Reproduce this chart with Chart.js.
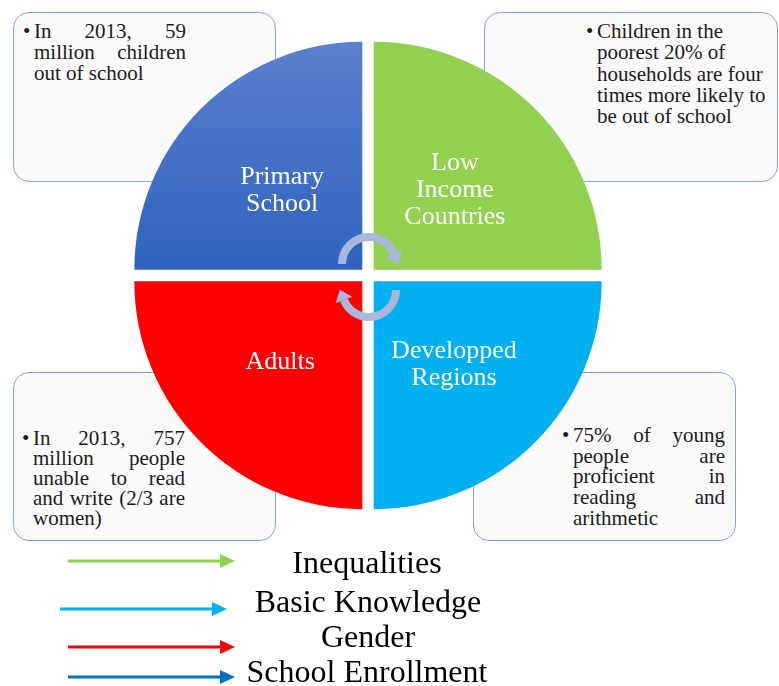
<!DOCTYPE html>
<html>
<head>
<meta charset="utf-8">
<script src="https://cdn.jsdelivr.net/npm/chart.js@4/dist/chart.umd.min.js"></script>
<style>
  html,body{margin:0;padding:0;background:#fff;}
  #wrap{position:relative;width:779px;height:686px;overflow:hidden;font-family:"Liberation Serif","DejaVu Serif",serif;}
  .box{position:absolute;box-sizing:border-box;border:1.5px solid #86A3DA;border-radius:16px;background:#FAFAFA;z-index:1;}
  .txt{position:absolute;z-index:1;font-size:21px;color:#1c1c1c;}
  .ln{white-space:nowrap;height:21px;line-height:21px;}
  .j{text-align:justify;text-align-last:justify;}
  .bul{position:absolute;font-size:21px;line-height:21px;}
  canvas{position:absolute;left:0;top:0;z-index:2;}
  #legend{position:absolute;left:0;top:0;z-index:3;}
  .lt{position:absolute;z-index:3;font-size:32px;color:#000;white-space:nowrap;transform:translate(-50%,-50%);line-height:1;}
</style>
</head>
<body>
<div id="wrap">
  <div class="box" style="left:13px;top:12px;width:263px;height:170px;"></div>
  <div class="box" style="left:484px;top:12px;width:294px;height:170px;"></div>
  <div class="box" style="left:13px;top:372px;width:263px;height:169px;"></div>
  <div class="box" style="left:473px;top:372px;width:263px;height:169px;"></div>
  <div id="notes"></div>
  <canvas id="c" width="779" height="686"></canvas>
  <svg id="legend" width="779" height="686"></svg>
  <div id="ltext"></div>
</div>
<script>
// ---- data ----
const categories = ["Low Income Countries", "Developped Regions", "Adults", "Primary School"];
const labelLines = [["Low", "Income", "Countries"], ["Developped", "Regions"], ["Adults"], ["Primary", "School"]];
const shares = [25, 25, 25, 25];
const sliceColors = ["#92D050", "#00B0F0", "#FF0000", "#3D6CC4"];
const legendItems = ["Inequalities", "Basic Knowledge", "Gender", "School Enrollment"];
const legendColors = ["#92D050", "#00B0F0", "#FF0000", "#0070C0"];
const noteLines = [
  [["In 2013, 59", 1], ["million children", 1], ["out of school", 0]],
  [["Children in the", 0], ["poorest 20% of", 0], ["households are four", 0], ["times more likely to", 0], ["be out of school", 0]],
  [["In 2013, 757", 1], ["million people", 1], ["unable to read", 1], ["and write (2/3 are", 1], ["women)", 0]],
  [["75% of young", 1], ["people are", 1], ["proficient in", 1], ["reading and", 1], ["arithmetic", 0]]
];

// ---- note boxes text (layout) ----
const notePos = [
  {x:34, y:21, w:152, lh:21},
  {x:597, y:21, w:175, lh:21.3},
  {x:33, y:428, w:152, lh:20},
  {x:573, y:425, w:152, lh:20.7}
];
const notes = document.getElementById('notes');
noteLines.forEach((lines, i) => {
  const p = notePos[i];
  const d = document.createElement('div');
  d.className = 'txt';
  d.style.left = p.x + 'px'; d.style.top = p.y + 'px'; d.style.width = p.w + 'px';
  const b = document.createElement('div');
  b.className = 'bul'; b.textContent = '•'; b.style.left = '-11px'; b.style.top = '0px';
  d.appendChild(b);
  lines.forEach(([t, j]) => {
    const l = document.createElement('div');
    l.className = 'ln' + (j ? ' j' : '');
    l.style.height = p.lh + 'px'; l.style.lineHeight = p.lh + 'px';
    l.textContent = t;
    d.appendChild(l);
  });
  notes.appendChild(d);
});

// ---- legend arrows + text ----
const svg = document.getElementById('legend');
const arrowRows = [{x0:68, x1:235, y:561}, {x0:60, x1:227, y:609}, {x0:68, x1:235, y:647}, {x0:68, x1:235, y:677}];
const textRows = [{x:367, y:562}, {x:368, y:601}, {x:368, y:636}, {x:367, y:671}];
let s = '';
legendItems.forEach((name, i) => {
  const a = arrowRows[i], col = legendColors[i];
  s += `<line x1="${a.x0}" y1="${a.y}" x2="${a.x1-12}" y2="${a.y}" stroke="${col}" stroke-width="3"/>`;
  s += `<polygon points="${a.x1},${a.y} ${a.x1-15},${a.y-7} ${a.x1-15},${a.y+7}" fill="${col}"/>`;
  const t = document.createElement('div');
  t.className = 'lt'; t.textContent = name;
  t.style.left = textRows[i].x + 'px'; t.style.top = textRows[i].y + 'px';
  document.getElementById('ltext').appendChild(t);
});
svg.innerHTML = s;

// ---- chart ----
const RADIUS = 228;
const labelOffsets = [[-5, 7], [-6, -3], [4, -5], [6, 7]];

function drawHead(ctx, ox, oy, r, ang) {
  const px = ox + r * Math.cos(ang), py = oy + r * Math.sin(ang);
  const tx = -Math.sin(ang), ty = Math.cos(ang);
  const nx = Math.cos(ang), ny = Math.sin(ang);
  ctx.beginPath();
  ctx.moveTo(px + tx * 11, py + ty * 11);
  ctx.lineTo(px + nx * 9, py + ny * 9);
  ctx.lineTo(px - nx * 9, py - ny * 9);
  ctx.closePath();
  ctx.fill();
}

const overlay = {
  id: 'overlay',
  afterDatasetsDraw(chart) {
    const ctx = chart.ctx;
    const a = chart.chartArea;
    const cx = (a.left + a.right) / 2, cy = (a.top + a.bottom) / 2;
    ctx.save();
    ctx.strokeStyle = '#A9B7DD';
    ctx.fillStyle = '#A9B7DD';
    ctx.lineWidth = 8;
    const r = 27;
    // top arc: left -> over the top -> right
    let ox = cx + 1, oy = cy - 11.5;
    let e = 2 * Math.PI - 0.38;
    ctx.beginPath(); ctx.arc(ox, oy, r, Math.PI, e, false); ctx.stroke();
    drawHead(ctx, ox, oy, r, e);
    // bottom arc: right -> under the bottom -> left
    ox = cx + 1; oy = cy + 14.5;
    e = Math.PI - 0.38;
    ctx.beginPath(); ctx.arc(ox, oy, r, 0, e, false); ctx.stroke();
    drawHead(ctx, ox, oy, r, e);
    ctx.restore();
    // labels
    const meta = chart.getDatasetMeta(0);
    ctx.save();
    ctx.fillStyle = '#FFFFFF';
    ctx.font = '26px "Liberation Serif", "DejaVu Serif", serif';
    ctx.textAlign = 'center';
    ctx.textBaseline = 'middle';
    meta.data.forEach((arc, i) => {
      const p = arc.tooltipPosition();
      const lines = labelLines[i];
      const lh = 27;
      const x = p.x + labelOffsets[i][0];
      const y0 = p.y + labelOffsets[i][1] - (lines.length - 1) * lh / 2;
      lines.forEach((t, k) => ctx.fillText(t, x, y0 + k * lh));
    });
    ctx.restore();
  }
};

new Chart(document.getElementById('c'), {
  type: 'pie',
  data: {
    labels: categories,
    datasets: [{
      data: shares,
      borderWidth: 0,
      offset: 32,
      backgroundColor: function(c) {
        const i = c.dataIndex;
        if (i !== 3) return sliceColors[i];
        const ch = c.chart, a = ch.chartArea;
        if (!a) return sliceColors[i];
        const cy = (a.top + a.bottom) / 2;
        const g = ch.ctx.createLinearGradient(0, cy - RADIUS, 0, cy);
        g.addColorStop(0, '#5C80CD');
        g.addColorStop(1, '#2F62BE');
        return g;
      }
    }]
  },
  options: {
    responsive: false,
    animation: false,
    events: [],
    radius: RADIUS,
    layout: {padding: {left: 0, right: 43, top: 0, bottom: 135}},
    plugins: {legend: {display: false}, tooltip: {enabled: false}}
  },
  plugins: [overlay]
});
</script>
</body>
</html>
